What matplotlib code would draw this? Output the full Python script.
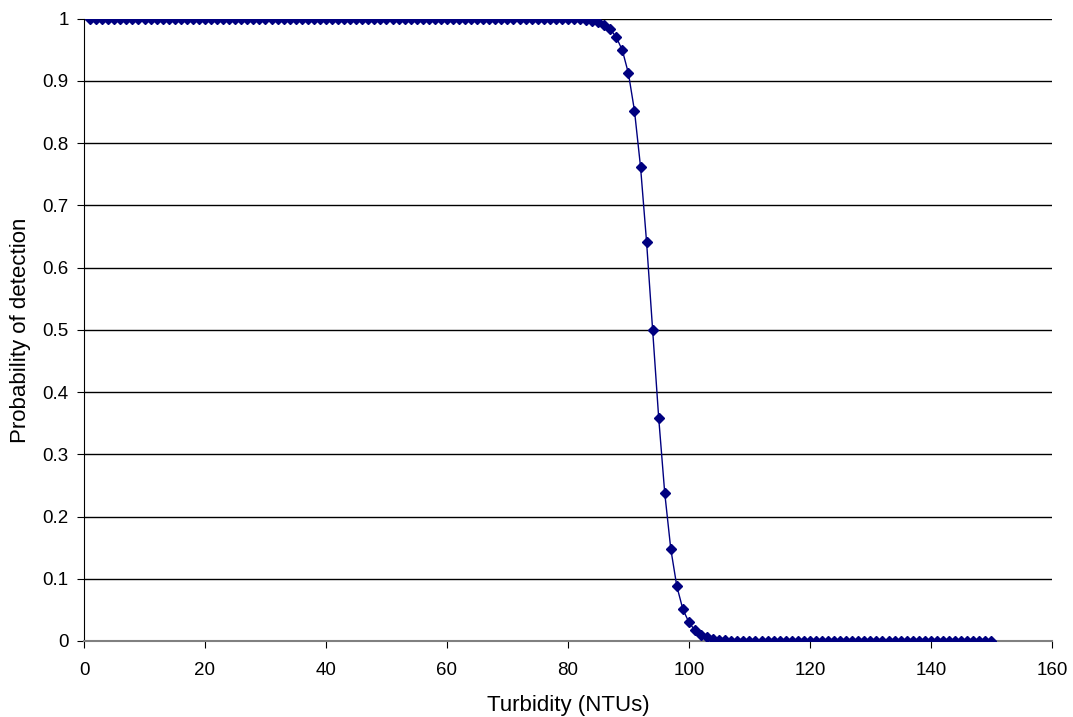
import numpy as np
import matplotlib.pyplot as plt

plt.rcParams['font.family'] = ['Liberation Sans', 'DejaVu Sans']

# Turbidity values (NTUs)
turbidity = np.arange(1, 151)

# Probability of detection
prob_detection = [
    1.0, 1.0, 1.0, 1.0, 1.0, 1.0, 1.0, 1.0, 1.0, 1.0, 1.0, 1.0, 1.0, 1.0, 1.0,
    1.0, 1.0, 1.0, 1.0, 1.0, 1.0, 1.0, 1.0, 1.0, 1.0, 1.0, 1.0, 1.0, 1.0, 1.0,
    1.0, 1.0, 1.0, 1.0, 1.0, 1.0, 1.0, 1.0, 1.0, 1.0, 1.0, 1.0, 1.0, 1.0, 1.0,
    1.0, 1.0, 1.0, 1.0, 1.0, 1.0, 1.0, 1.0, 1.0, 1.0, 1.0, 1.0, 1.0, 1.0, 1.0,
    1.0, 1.0, 1.0, 1.0, 1.0, 1.0, 1.0, 1.0, 1.0, 1.0, 1.0, 1.0, 1.0, 1.0, 1.0,
    1.0, 1.0, 1.0, 1.0, 1.0, 1.0, 0.999, 0.998, 0.997, 0.994, 0.99, 0.983, 0.97, 0.949, 0.912,
    0.852, 0.762, 0.641, 0.5, 0.359, 0.238, 0.148, 0.088, 0.051, 0.03,
    0.017, 0.01, 0.006, 0.003, 0.002, 0.001, 0.0, 0.0, 0.0, 0.0,
    0.0, 0.0, 0.0, 0.0, 0.0, 0.0, 0.0, 0.0, 0.0, 0.0, 0.0, 0.0, 0.0, 0.0, 0.0,
    0.0, 0.0, 0.0, 0.0, 0.0, 0.0, 0.0, 0.0, 0.0, 0.0, 0.0, 0.0, 0.0, 0.0, 0.0,
    0.0, 0.0, 0.0, 0.0, 0.0, 0.0, 0.0, 0.0, 0.0, 0.0,
]

fig = plt.figure(figsize=(10.73, 7.17), dpi=100)
ax = fig.add_axes([0.0783, 0.106, 0.902, 0.868])

ax.plot(turbidity, prob_detection, color='#000080', linewidth=1.0,
        marker='D', markersize=5.5, markerfacecolor='#000080',
        markeredgecolor='#000080', zorder=3)

ax.set_xlim(0, 160)
ax.set_ylim(0, 1)
ax.set_xticks(np.arange(0, 161, 20))
ax.set_yticks(np.arange(0, 1.01, 0.1))
ax.set_yticklabels(["0", "0.1", "0.2", "0.3", "0.4", "0.5", "0.6", "0.7", "0.8", "0.9", "1"])

ax.grid(axis='y', color='black', linewidth=1.0)
ax.set_axisbelow(True)
for side in ['top', 'right']:
    ax.spines[side].set_visible(False)
ax.spines['left'].set_color('black')
ax.spines['bottom'].set_color('#808080')
ax.spines['bottom'].set_linewidth(1.5)

ax.tick_params(axis='both', labelsize=13.5, length=5, direction='out')
ax.tick_params(axis='x', pad=10)
ax.tick_params(axis='y', pad=6)

ax.set_xlabel("Turbidity (NTUs)", fontsize=16, labelpad=12)
ax.set_ylabel("Probability of detection", fontsize=16, labelpad=8)

fig.savefig("out.png", dpi=100)
